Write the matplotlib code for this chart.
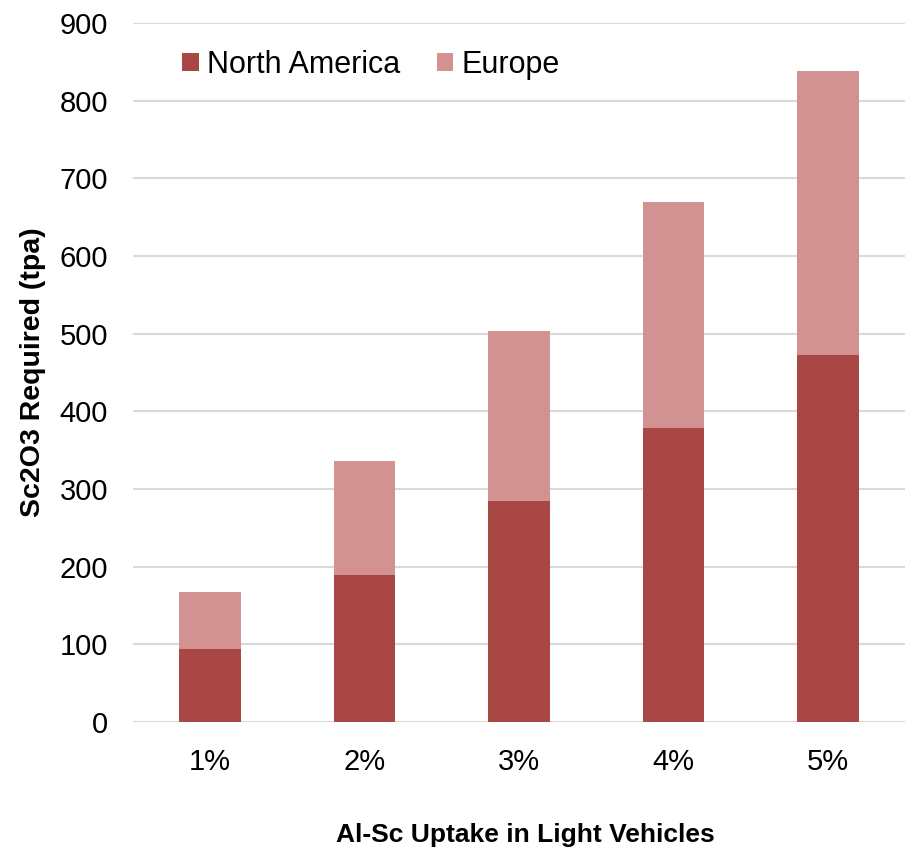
import matplotlib
matplotlib.use("Agg")
import matplotlib.pyplot as plt

plt.rcParams['font.family'] = ['Liberation Sans', 'DejaVu Sans']

categories = ["1%", "2%", "3%", "4%", "5%"]
north_america = [94, 189, 284, 378, 473]
europe = [73, 147, 219, 292, 365]
yticks = [0, 100, 200, 300, 400, 500, 600, 700, 800, 900]

c_na = "#A94744"
c_eu = "#D29292"

W, H = 911, 847
fig = plt.figure(figsize=(W/100, H/100), dpi=100)
ax = fig.add_axes([133/W, 1-722/H, (905-133)/W, (722-23)/H])

x = list(range(len(categories)))
ax.bar(x, north_america, width=0.4, color=c_na, label="North America", zorder=3)
ax.bar(x, europe, width=0.4, bottom=north_america, color=c_eu, label="Europe", zorder=3)

ax.set_xlim(-0.5, 4.5)
ax.set_ylim(0, 900)
ax.set_yticks(yticks)
ax.set_xticks(x)
ax.set_xticklabels(categories)
ax.yaxis.grid(True, color="#D9D9D9", linewidth=1.5, zorder=0)
for s in ax.spines.values():
    s.set_visible(False)
ax.tick_params(axis='both', length=0, labelsize=21)
ax.tick_params(axis='y', pad=18)
ax.tick_params(axis='x', pad=19)

fig.text(33/W, 1-372/H, "Sc2O3 Required (tpa)", rotation=90, fontsize=20.5,
         fontweight='bold', ha='center', va='center')
fig.text(525/W, (H-842)/H, "Al-Sc Uptake in Light Vehicles", fontsize=19,
         fontweight='bold', ha='center', va='baseline')

ax.legend(loc='center left', bbox_to_anchor=((182-133)/772, (722-65)/699), ncol=2,
          frameon=False, fontsize=22, handlelength=0.55, handleheight=0.55,
          handletextpad=0.26, columnspacing=1.2, borderpad=0, borderaxespad=0)

fig.savefig("out.png", dpi=100)
